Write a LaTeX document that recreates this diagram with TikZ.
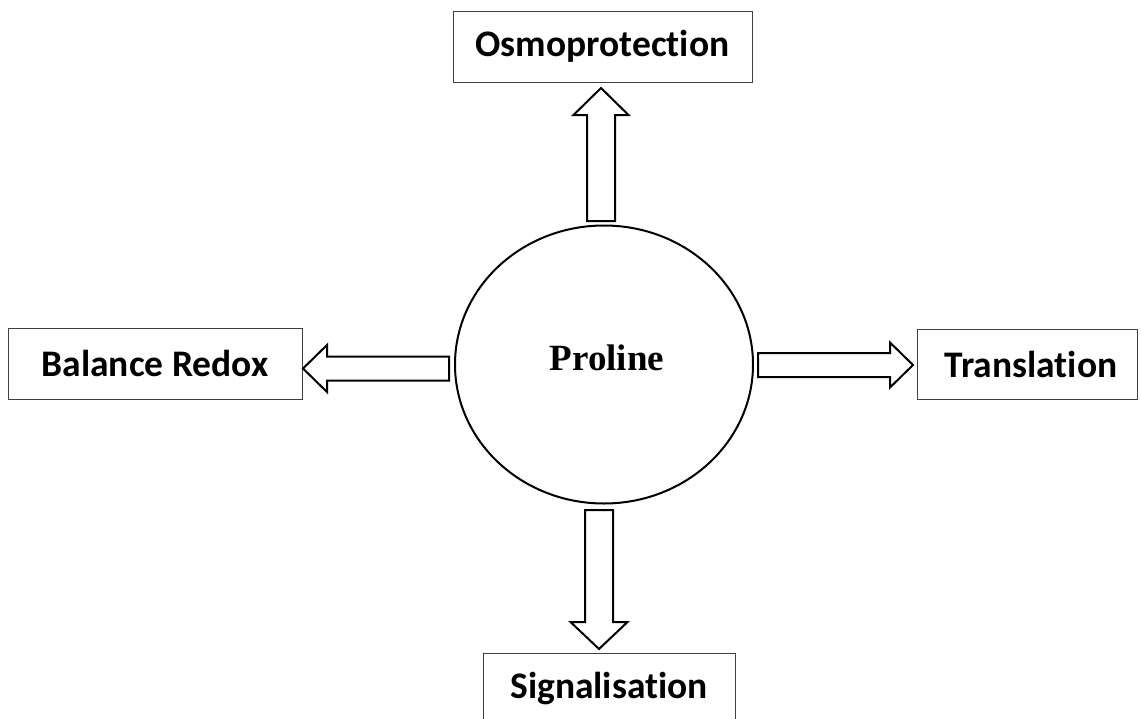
\documentclass[tikz,border=0pt]{standalone}
\usepackage{fontspec}
\setmainfont{Liberation Serif}
\newfontfamily\boxfont[Ligatures=NoCommon]{Carlito}
\begin{document}
\begin{tikzpicture}[x=1pt,y=-1pt,
  boxnode/.style={draw=black!75,line width=1pt,rectangle,inner sep=0pt,font=\boxfont\bfseries\fontsize{37.5}{40}\selectfont},
  barrow/.style={draw=black,line width=2pt,fill=white,line join=miter}]
\fill[white] (0,0) rectangle (1141,718);
\useasboundingbox (0,0) rectangle (1141,718);
% nodes
\node[boxnode,minimum width=299pt,minimum height=71pt] (osmo) at (602.5,46.5) {Osmoprotection};
\node[boxnode,minimum width=294pt,minimum height=71pt] (redox) at (155,363.5) {Balance Redox};
\node[boxnode,minimum width=220pt,minimum height=70pt] (trans) at (1027,364) {\hspace*{8pt}Translation};
\node[boxnode,minimum width=252pt,minimum height=71pt] (signal) at (609,688.5) {Signalisation};
\draw[black,line width=2pt] (604,364.5) ellipse [x radius=149, y radius=139];
\node[inner sep=0pt,font=\bfseries\fontsize{37}{40}\selectfont] (pro) at (607,357.5) {Proline};
% arrow anchor coordinates
\coordinate (uT) at (601,221);
\coordinate (dT) at (599,510);
\coordinate (lT) at (449,368.5);
\coordinate (rT) at (758,365);
% up arrow
\draw[barrow] (uT) ++(-14,0) -- ++(0,-106) -- ++(-13.5,0) -- ++(27.5,-27) -- ++(27.5,27) -- ++(-13.5,0) -- ++(0,106) -- cycle;
% down arrow
\draw[barrow] (dT) ++(-14,0) -- ++(0,112) -- ++(-14.5,0) -- ++(28.5,27) -- ++(28.5,-27) -- ++(-14.5,0) -- ++(0,-112) -- cycle;
% left arrow
\draw[barrow] (lT) ++(0,-12) -- ++(-122,0) -- ++(0,-11.5) -- ++(-24,23.5) -- ++(24,23.5) -- ++(0,-11.5) -- ++(122,0) -- cycle;
% right arrow
\draw[barrow] (rT) ++(0,-12) -- ++(132,0) -- ++(0,-10.5) -- ++(23,22.5) -- ++(-23,22.5) -- ++(0,-10.5) -- ++(-132,0) -- cycle;
\end{tikzpicture}
\end{document}
